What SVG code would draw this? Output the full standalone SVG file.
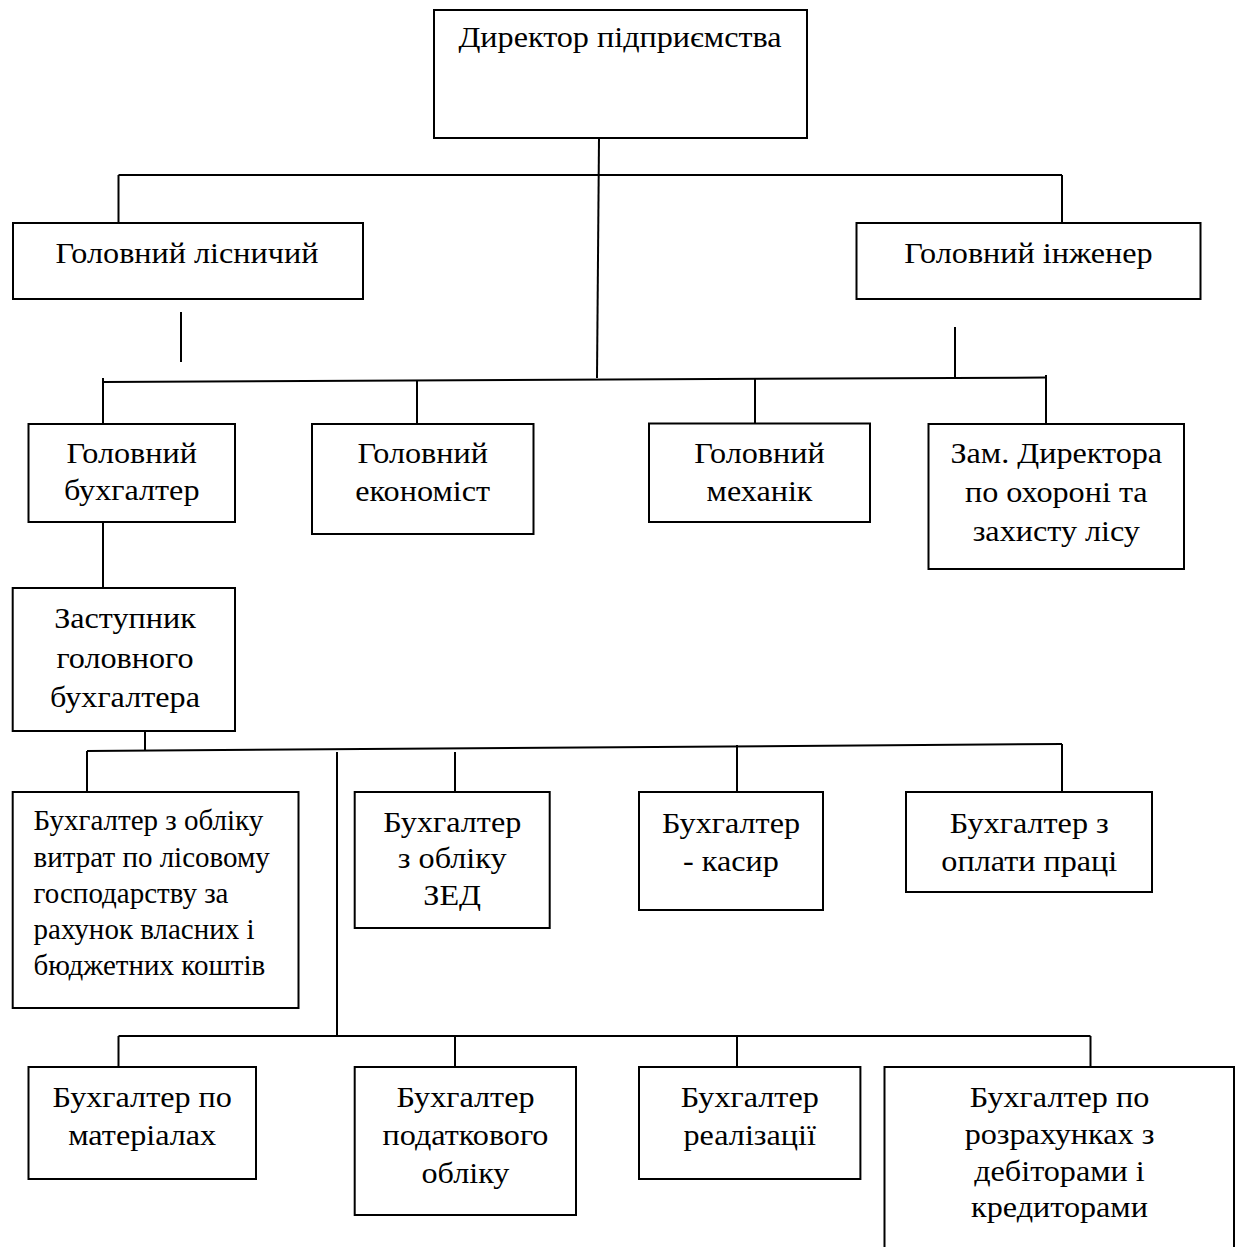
<svg xmlns="http://www.w3.org/2000/svg" width="1241" height="1247" viewBox="0 0 1241 1247">
<style>
.box{fill:#fff;stroke:#000;stroke-width:2}
.ln{stroke:#000;stroke-width:2;fill:none}
text{font-family:"Liberation Serif","Times New Roman",serif;font-size:29px;fill:#000;text-anchor:middle}
.l{text-anchor:start}
</style>
<rect width="1241" height="1247" fill="#fff"/>
<g id="connectors">
<line class="ln" x1="599" y1="138" x2="597" y2="378"/>
<line class="ln" x1="118.5" y1="175" x2="1062" y2="175"/>
<line class="ln" x1="118.5" y1="175" x2="118.5" y2="223"/>
<line class="ln" x1="1062" y1="175" x2="1062" y2="223"/>
<line class="ln" x1="181" y1="312" x2="181" y2="362"/>
<line class="ln" x1="955" y1="327" x2="955" y2="378"/>
<line class="ln" x1="103" y1="382" x2="1046" y2="377.5"/>
<line class="ln" x1="103" y1="378" x2="103" y2="424"/>
<line class="ln" x1="417" y1="381" x2="417" y2="424"/>
<line class="ln" x1="755" y1="378" x2="755" y2="423"/>
<line class="ln" x1="1046" y1="375" x2="1046" y2="424"/>
<line class="ln" x1="103" y1="522" x2="103" y2="588"/>
<line class="ln" x1="145" y1="731" x2="145" y2="751"/>
<line class="ln" x1="87" y1="751" x2="1062" y2="744"/>
<line class="ln" x1="87" y1="751" x2="87" y2="792"/>
<line class="ln" x1="337" y1="752" x2="337" y2="1036"/>
<line class="ln" x1="455" y1="752" x2="455" y2="792"/>
<line class="ln" x1="737" y1="745" x2="737" y2="792"/>
<line class="ln" x1="1062" y1="744" x2="1062" y2="792"/>
<line class="ln" x1="118.5" y1="1036" x2="1090.5" y2="1036"/>
<line class="ln" x1="118.5" y1="1036" x2="118.5" y2="1067"/>
<line class="ln" x1="455" y1="1036" x2="455" y2="1067"/>
<line class="ln" x1="737" y1="1036" x2="737" y2="1067"/>
<line class="ln" x1="1090.5" y1="1036" x2="1090.5" y2="1067"/>
</g>
<g id="director">
<rect class="box" x="434" y="10" width="373" height="128"/>
<text transform="translate(620 47) scale(1.11 1)">Директор підприємства</text>
</g>
<g id="lisnychyi">
<rect class="box" x="13" y="223" width="350" height="76"/>
<text transform="translate(187 263) scale(1.11 1)">Головний лісничий</text>
</g>
<g id="inzhener">
<rect class="box" x="856.5" y="223" width="344" height="76"/>
<text transform="translate(1028.5 263) scale(1.11 1)">Головний інженер</text>
</g>
<g id="buhgalter">
<rect class="box" x="28.5" y="424" width="206.5" height="98"/>
<text transform="translate(131.7 463) scale(1.11 1)">Головний</text>
<text transform="translate(131.7 500) scale(1.11 1)">бухгалтер</text>
</g>
<g id="ekonomist">
<rect class="box" x="312" y="424" width="221.5" height="110"/>
<text transform="translate(422.7 463) scale(1.11 1)">Головний</text>
<text transform="translate(422.7 501) scale(1.11 1)">економіст</text>
</g>
<g id="mehanik">
<rect class="box" x="649" y="423.5" width="221" height="98.5"/>
<text transform="translate(759.5 463) scale(1.11 1)">Головний</text>
<text transform="translate(759.5 501) scale(1.11 1)">механік</text>
</g>
<g id="zam">
<rect class="box" x="928.5" y="424" width="255.5" height="145"/>
<text transform="translate(1056.3 463) scale(1.11 1)">Зам. Директора</text>
<text transform="translate(1056.3 502) scale(1.11 1)">по охороні та</text>
<text transform="translate(1056.3 541) scale(1.11 1)">захисту лісу</text>
</g>
<g id="zastupnyk">
<rect class="box" x="12.7" y="588" width="222.3" height="143"/>
<text transform="translate(125 628) scale(1.11 1)">Заступник</text>
<text transform="translate(125 668) scale(1.11 1)">головного</text>
<text transform="translate(125 707) scale(1.11 1)">бухгалтера</text>
</g>
<g id="vytrat">
<rect class="box" x="12.7" y="792" width="285.8" height="216"/>
<text class="l" x="33.6" y="830">Бухгалтер з обліку</text>
<text class="l" x="33.6" y="866.5">витрат по лісовому</text>
<text class="l" x="33.6" y="902.5">господарству за</text>
<text class="l" x="33.6" y="938.5">рахунок власних і</text>
<text class="l" x="33.6" y="975">бюджетних коштів</text>
</g>
<g id="zed">
<rect class="box" x="354.7" y="792" width="195" height="136"/>
<text transform="translate(452.2 832) scale(1.11 1)">Бухгалтер</text>
<text transform="translate(452.2 868) scale(1.11 1)">з обліку</text>
<text transform="translate(452.2 905) scale(1.11 1)">ЗЕД</text>
</g>
<g id="kasyr">
<rect class="box" x="639" y="792" width="184" height="118"/>
<text transform="translate(731 833) scale(1.11 1)">Бухгалтер</text>
<text transform="translate(731 871) scale(1.11 1)">- касир</text>
</g>
<g id="oplata">
<rect class="box" x="906" y="792" width="246" height="100"/>
<text transform="translate(1029.3 833) scale(1.11 1)">Бухгалтер з</text>
<text transform="translate(1029.3 871) scale(1.11 1)">оплати праці</text>
</g>
<g id="materialy">
<rect class="box" x="28.5" y="1067" width="227.5" height="112"/>
<text transform="translate(142.2 1107) scale(1.11 1)">Бухгалтер по</text>
<text transform="translate(142.2 1145) scale(1.11 1)">матеріалах</text>
</g>
<g id="podatkovyi">
<rect class="box" x="354.7" y="1067" width="221.3" height="148"/>
<text transform="translate(465.5 1107) scale(1.11 1)">Бухгалтер</text>
<text transform="translate(465.5 1145) scale(1.11 1)">податкового</text>
<text transform="translate(465.5 1183) scale(1.11 1)">обліку</text>
</g>
<g id="realizatsiia">
<rect class="box" x="639" y="1067" width="221.4" height="112"/>
<text transform="translate(749.7 1107) scale(1.11 1)">Бухгалтер</text>
<text transform="translate(749.7 1145) scale(1.11 1)">реалізації</text>
</g>
<g id="rozrahunky">
<rect class="box" x="884.5" y="1067" width="349.5" height="200"/>
<text transform="translate(1059.5 1107) scale(1.11 1)">Бухгалтер по</text>
<text transform="translate(1059.5 1144) scale(1.11 1)">розрахунках з</text>
<text transform="translate(1059.5 1181) scale(1.11 1)">дебіторами і</text>
<text transform="translate(1059.5 1217) scale(1.11 1)">кредиторами</text>
</g>
</svg>
